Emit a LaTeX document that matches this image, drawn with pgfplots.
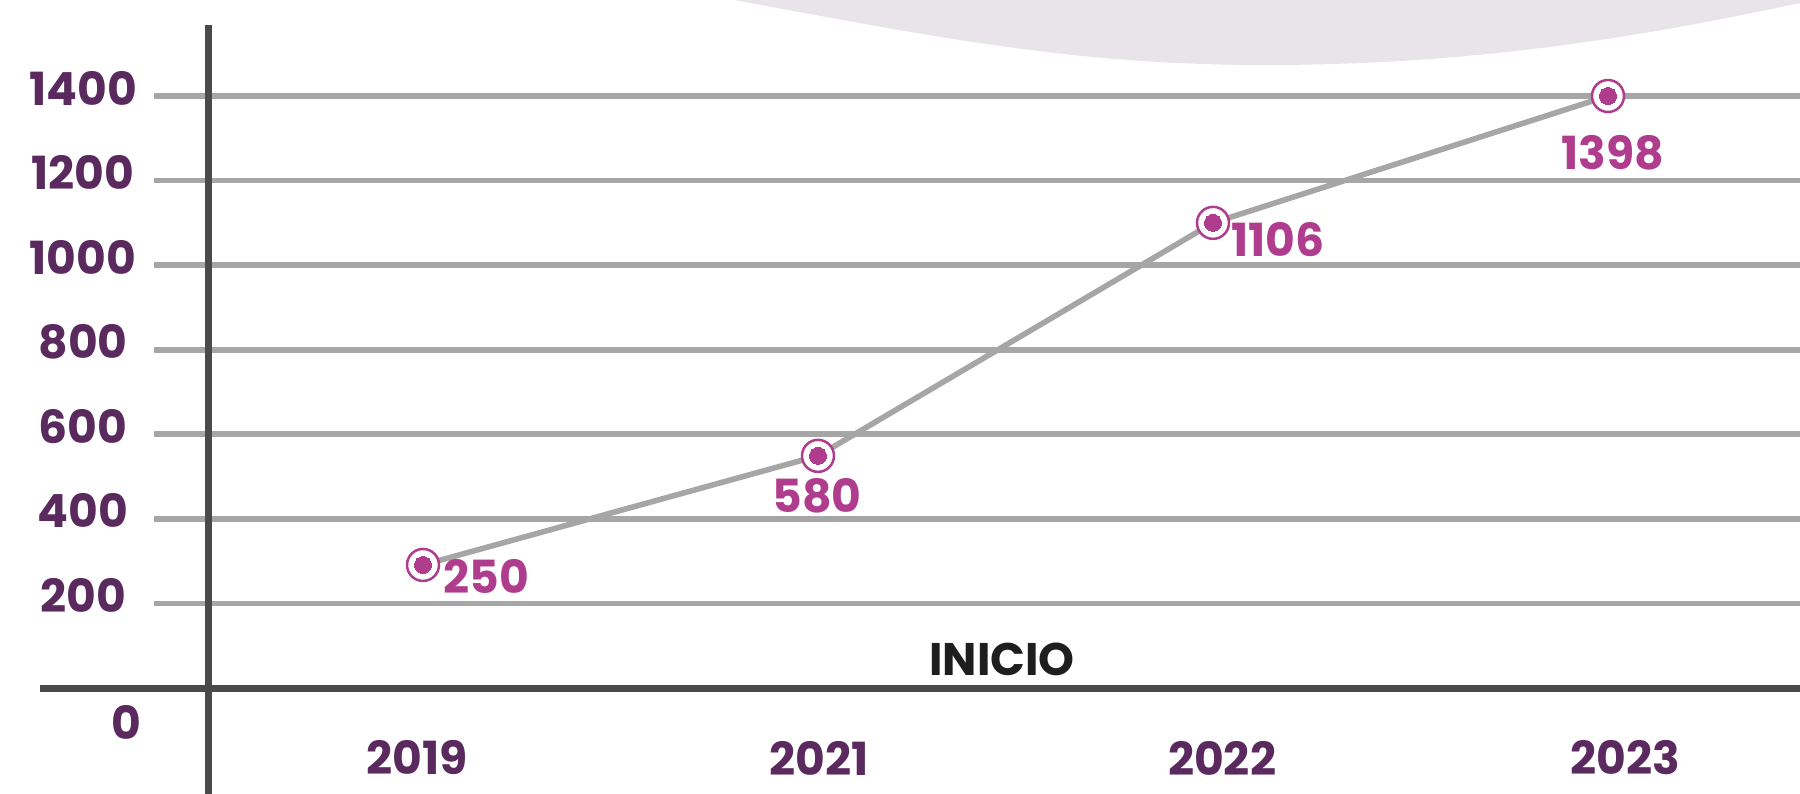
\documentclass[border=0pt]{standalone}
\usepackage{pgfplots}
\pgfplotsset{compat=1.18}
\usepackage{pgfplotstable}
\usepackage{fontspec}
\setmainfont{Poppins}
\definecolor{ypurple}{HTML}{5A2A5E}
\definecolor{mag}{HTML}{B03C8E}
\definecolor{gline}{HTML}{A6A6A6}
\definecolor{axdark}{HTML}{4A4A4A}
\definecolor{blob}{HTML}{E8E4EA}
\definecolor{inicio}{HTML}{1E1E1E}

% x: 0=2019, 1=2021, 2=2022, 3=2023 ; y: plotted position ; lab: printed value
\pgfplotstableread{
x y lab dx dy
0 291 250 0.63 -0.12
1 549 580 -0.01 -0.40
2 1100 1106 0.65 -0.17
3 1400 1398 0.05 -0.57
}\datatable

\begin{document}
\begin{tikzpicture}
\useasboundingbox (0,0) rectangle (18cm,7.93cm);
\begin{axis}[
  at={(0,0)}, anchor=south west,
  scale only axis, width=18cm, height=7.93cm,
  xmin=-1.0709, xmax=3.4861,
  ymin=-248.3, ymax=1627,
  axis line style={draw=none},
  tick style={draw=none},
  major tick length=0pt,
  ytick={200,400,600,800,1000,1200,1400},
  yticklabels={200,400,600,800,1000,1200,1400},
  yticklabel style={anchor=center, xshift=0.83cm, yshift=0.08cm,
    font=\fontsize{13}{15}\selectfont\bfseries, text=ypurple, inner sep=0pt},
  xtick={-0.015,1.003,2.023,3.043},
  xticklabels={2019,2021,2022,2023},
  xticklabel style={anchor=center, yshift=0.35cm,
    font=\fontsize{13}{15}\selectfont\bfseries, text=ypurple, inner sep=0pt},
  clip=true,
]
% background blob (top)
\fill[blob] (rel axis cs:{734/1800},1.05)
  -- (rel axis cs:{734/1800},1)
  .. controls (rel axis cs:{950/1800},{1-40/793}) and (rel axis cs:{1080/1800},{1-65/793})
  .. (rel axis cs:{1266/1800},{1-65/793})
  .. controls (rel axis cs:{1480/1800},{1-65/793}) and (rel axis cs:{1650/1800},{1-35/793})
  .. (rel axis cs:{1800/1800},{1-3/793})
  -- (rel axis cs:1.02,{1-3/793}) -- (rel axis cs:1.02,1.05) -- cycle;
% horizontal grid lines
\pgfplotsinvokeforeach{200,400,...,1400}{
  \draw[gline, line width=0.058cm] (axis cs:-0.681,#1) -- (axis cs:3.6,#1);
}
% axis lines
\draw[axdark, line width=0.07cm] (axis cs:-0.544,-300) -- (axis cs:-0.544,1568);
\draw[axdark, line width=0.07cm] (axis cs:-0.97,0) -- (axis cs:3.6,0);
% text labels
\node[font=\fontsize{13}{15}\selectfont\bfseries, text=inicio, inner sep=0pt]
  at (axis cs:1.466,68.6) {INICIO};
\node[font=\fontsize{13}{15}\selectfont\bfseries, text=ypurple, inner sep=0pt]
  at (axis cs:-0.752,-80.4) {0};
% data line
\addplot[gline, line width=0.056cm, mark=none] table[x=x, y=y] {\datatable};
% ring markers
\addplot[mag, only marks, mark=*, mark size=0.16cm,
  mark options={draw=mag, fill=white, line width=0.025cm}] table[x=x, y=y] {\datatable};
% dot markers with value labels
\addplot[mag, only marks, mark=*, mark size=0.085cm,
  mark options={draw=mag, fill=mag, line width=0pt},
  visualization depends on={\thisrow{dx}\as\ldx},
  visualization depends on={\thisrow{dy}\as\ldy},
  point meta=explicit symbolic,
  nodes near coords,
  nodes near coords style={anchor=center, inner sep=0pt,
    xshift=\ldx cm, yshift=\ldy cm, text=mag,
    font=\fontsize{13}{15}\selectfont\bfseries},
] table[x=x, y=y, meta=lab] {\datatable};
\end{axis}
\end{tikzpicture}
\end{document}
